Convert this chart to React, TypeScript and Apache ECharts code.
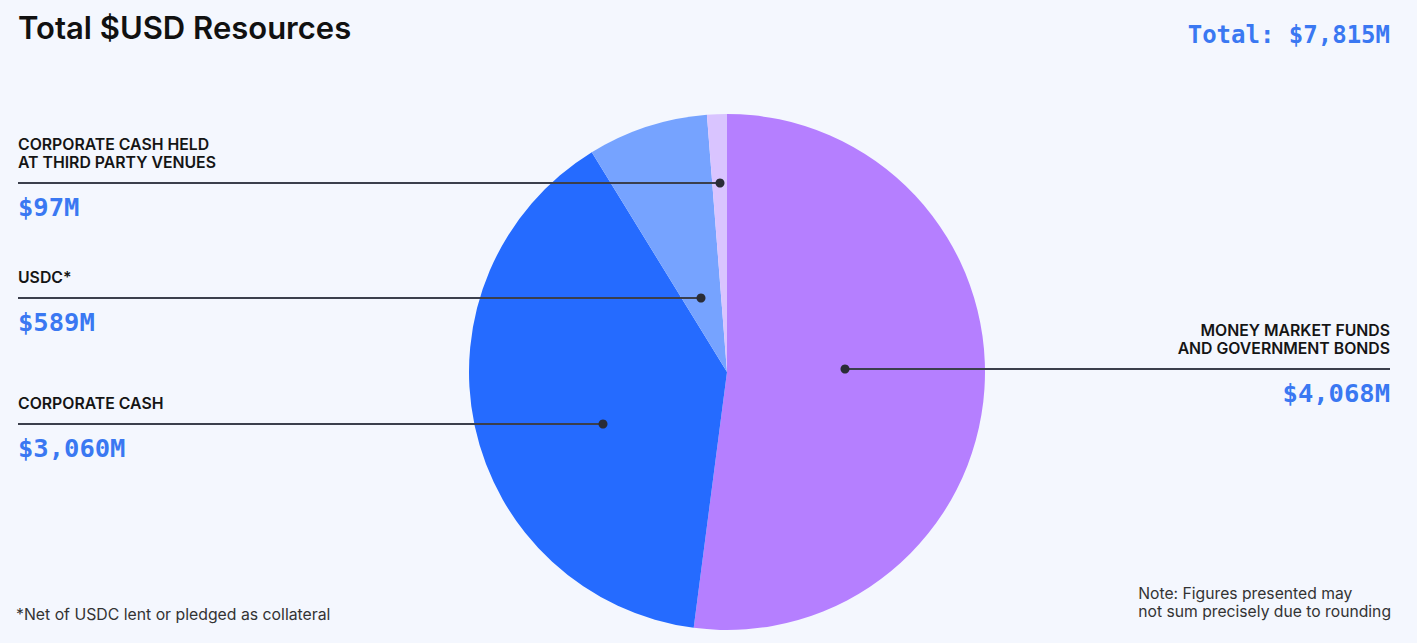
import React, { useEffect, useRef } from "react";
import * as echarts from "echarts";

const categories = [
  "MONEY MARKET FUNDS\nAND GOVERNMENT BONDS",
  "CORPORATE CASH",
  "USDC*",
  "CORPORATE CASH HELD\nAT THIRD PARTY VENUES",
];
const values = [4068, 3060, 589, 97];
const valueLabels = ["$4,068M", "$3,060M", "$589M", "$97M"];
const colors = ["#B57FFF", "#256BFF", "#76A3FF", "#D9C4FF"];
const totalLabel = "Total: $7,815M";

const BG = "#F4F7FE";
const LINE = "#3B3F4C";
const VALUE_BLUE = "#3A78F2";
const MONO = "'DejaVu Sans Mono', 'Liberation Mono', monospace";
const SANS = "Inter, 'Noto Sans', sans-serif";

export default function App() {
  const ref = useRef<HTMLDivElement>(null);
  useEffect(() => {
    document.body.style.margin = "0";
    document.body.style.background = BG;
    const chart = echarts.init(ref.current!, undefined, { renderer: "svg" });

    const layout = [
      { i: 3, side: "left", lineY: 183, dotX: 720 },
      { i: 2, side: "left", lineY: 298, dotX: 701 },
      { i: 1, side: "left", lineY: 424, dotX: 603 },
      { i: 0, side: "right", lineY: 369, dotX: 845 },
    ];

    const graphics: any[] = [
      {
        type: "text",
        left: 18,
        top: 12,
        style: { text: "Total $USD Resources", font: `600 31px ${SANS}`, fill: "#111111" },
      },
      {
        type: "text",
        right: 27,
        top: 23,
        style: { text: totalLabel, font: `bold 24px ${MONO}`, fill: VALUE_BLUE },
      },
      {
        type: "text",
        left: 16,
        top: 606,
        style: { text: "*Net of USDC lent or pledged as collateral", font: `400 15.8px ${SANS}`, fill: "#333333" },
      },
      {
        type: "text",
        right: 26,
        top: 584,
        style: {
          text: "Note: Figures presented may\nnot sum precisely due to rounding",
          font: `400 15.7px ${SANS}`,
          fill: "#333333",
          align: "right",
          lineHeight: 18,
        },
      },
    ];

    layout.forEach((l) => {
      const lines = categories[l.i].split("\n");
      const left = l.side === "left";
      const x0 = left ? 18 : l.dotX;
      const x1 = left ? l.dotX : 1390;
      const textTop = l.lineY - 15 - 18 * lines.length + 3;
      graphics.push({
        type: "line",
        shape: { x1: x0, y1: l.lineY, x2: x1, y2: l.lineY },
        style: { stroke: LINE, lineWidth: 2 },
        z: 10,
      });
      graphics.push({
        type: "circle",
        shape: { cx: l.dotX, cy: l.lineY, r: 4.5 },
        style: { fill: "#2A2C36" },
        z: 11,
      });
      graphics.push({
        type: "text",
        x: left ? 18 : 1390,
        y: textTop,
        style: {
          text: categories[l.i],
          font: `600 15.8px ${SANS}`,
          fill: "#151515",
          align: left ? "left" : "right",
          verticalAlign: "top",
          lineHeight: 18,
        },
      });
      graphics.push({
        type: "text",
        x: left ? 18 : 1390,
        y: l.lineY + 24,
        style: {
          text: valueLabels[l.i],
          font: `bold 25.5px ${MONO}`,
          fill: VALUE_BLUE,
          align: left ? "left" : "right",
          verticalAlign: "middle",
        },
      });
    });

    chart.setOption({
      animation: false,
      backgroundColor: BG,
      series: [
        {
          type: "pie",
          center: [727, 372],
          radius: [0, 258],
          startAngle: 90,
          clockwise: true,
          silent: true,
          label: { show: false },
          labelLine: { show: false },
          emphasis: { disabled: true },
          data: categories.map((c, i) => ({
            name: c,
            value: values[i],
            itemStyle: { color: colors[i] },
          })),
        },
      ],
      graphic: graphics,
    });
    return () => chart.dispose();
  }, []);
  return <div ref={ref} style={{ width: 1417, height: 643 }} />;
}
